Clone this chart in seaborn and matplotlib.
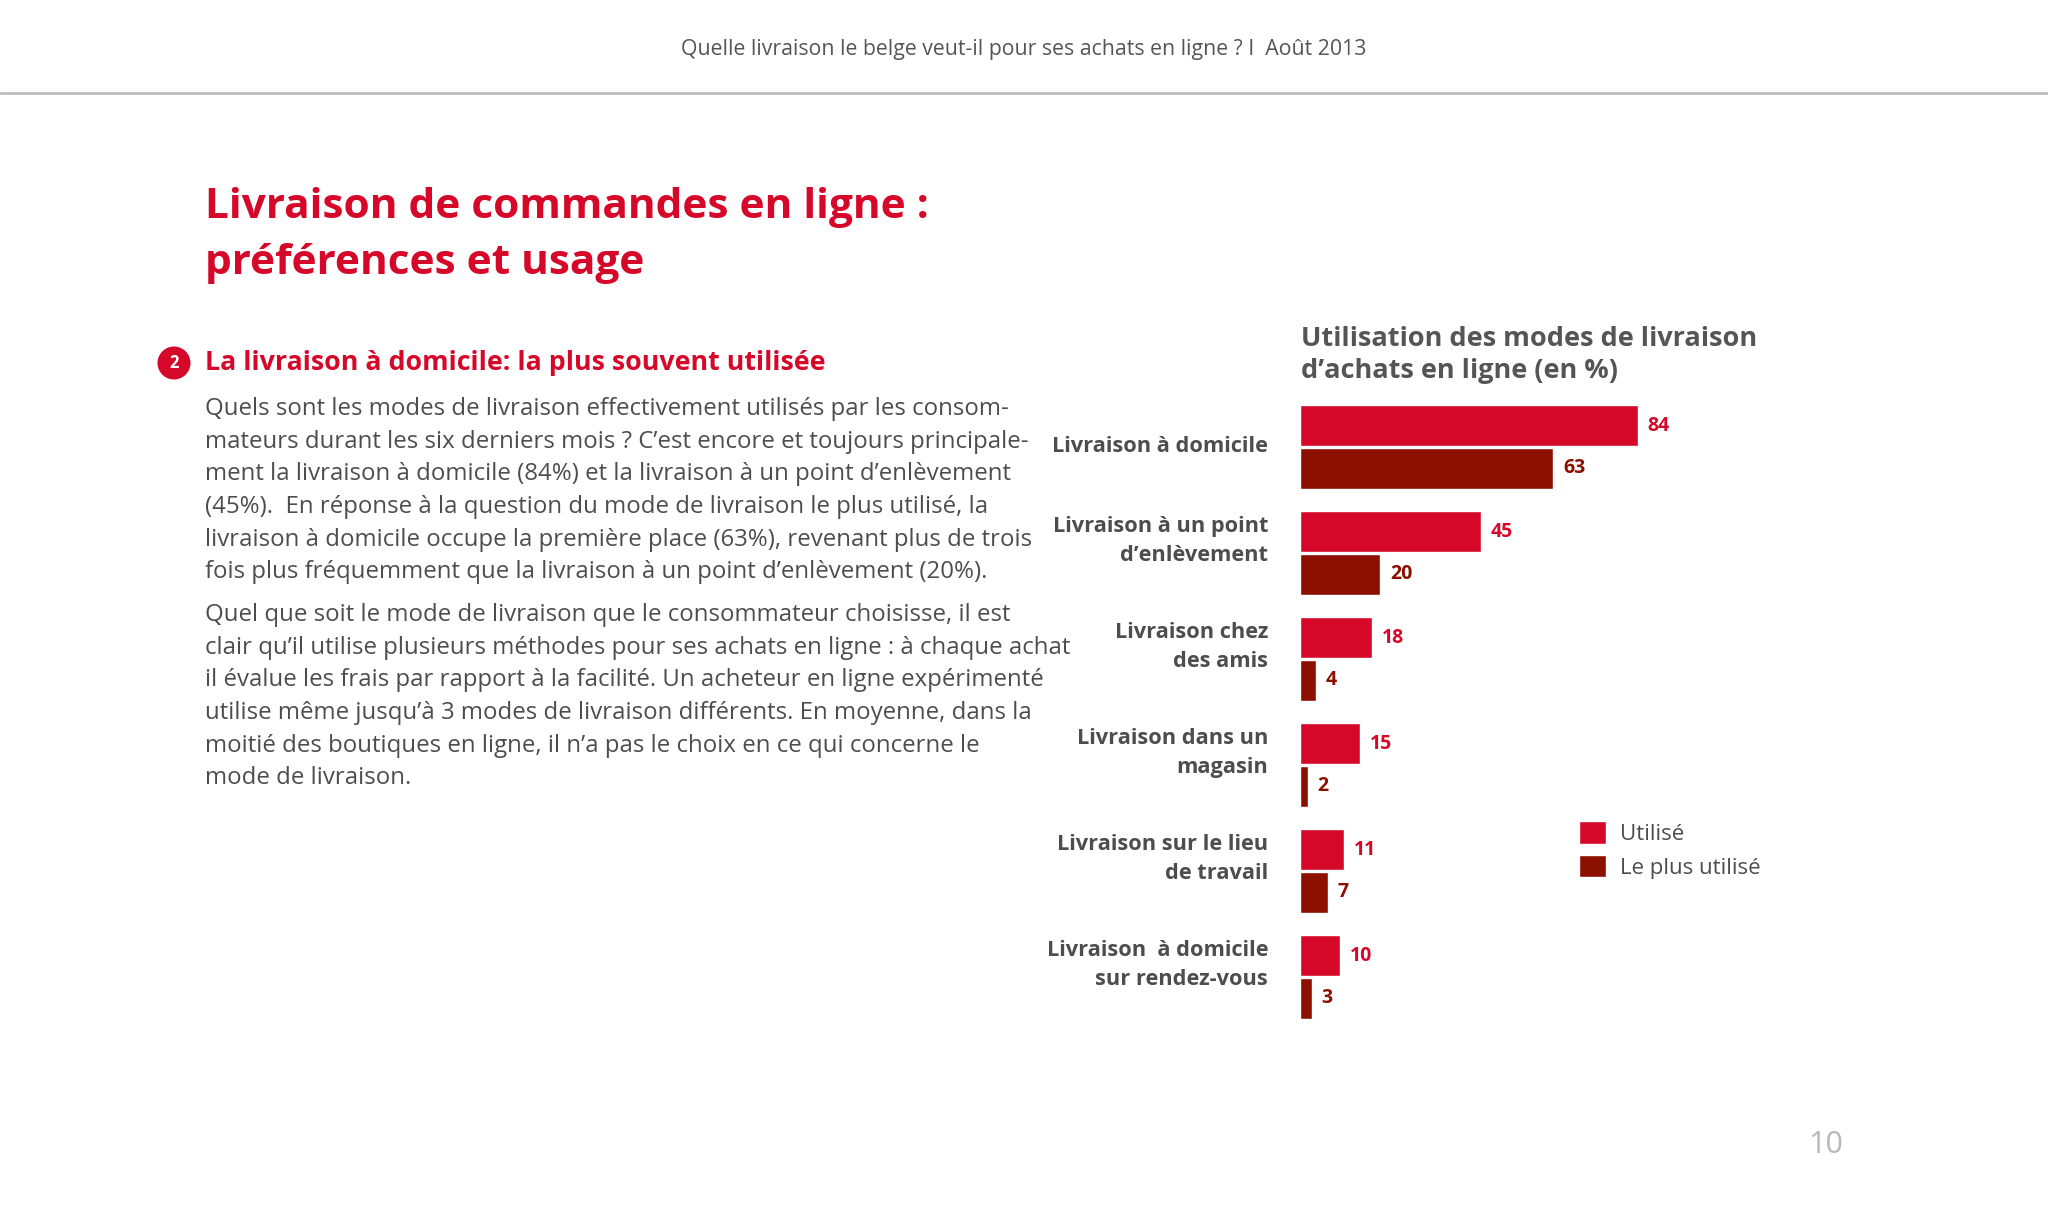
import matplotlib.pyplot as plt
import matplotlib.transforms as mtransforms
import pandas as pd
import seaborn as sns
from matplotlib.lines import Line2D

# données du graphique
categories = ['Livraison à domicile',
              'Livraison à un point\nd\u2019enlèvement',
              'Livraison chez\ndes amis',
              'Livraison dans un\nmagasin',
              'Livraison sur le lieu\nde travail',
              'Livraison  à domicile\nsur rendez-vous']
utilise = [84, 45, 18, 15, 11, 10]
plus_utilise = [63, 20, 4, 2, 7, 3]
series = ['Utilisé', 'Le plus utilisé']

RED = '#D6082A'
DARK = '#8B1000'
GREY = '#4d4d4d'
FONTS = ['Liberation Sans Narrow', 'Open Sans', 'DejaVu Sans']

df = pd.DataFrame({
    'Mode': categories * 2,
    'Série': [series[0]] * len(categories) + [series[1]] * len(categories),
    'Pourcentage': utilise + plus_utilise,
})

sns.set_style('white')
plt.rcParams['font.family'] = FONTS

fig = plt.figure(figsize=(20.48, 12.29), dpi=100)
fig.patch.set_facecolor('white')

ax = fig.add_axes([1300 / 2048, 1 - 1030 / 1229, 402 / 2048, 636 / 1229])
sns.barplot(data=df, y='Mode', x='Pourcentage', hue='Série', orient='h',
            palette=[RED, DARK], width=0.81, gap=0.06, saturation=1, ax=ax)
ax.set_xlim(0, 100)
ax.set_ylim(5.5, -0.5)
ax.set_xlabel('')
ax.set_ylabel('')
ax.set_xticks([])
ax.tick_params(axis='y', length=0, pad=23)
for lab in ax.get_yticklabels():
    lab.set_fontsize(15.7)
    lab.set_fontweight('bold')
    lab.set_color(GREY)
    lab.set_linespacing(1.5)
    up = 13 if '\n' in lab.get_text() else 2
    lab.set_transform(lab.get_transform() +
                      mtransforms.ScaledTranslation(0, up / 72, fig.dpi_scale_trans))
for s in ax.spines.values():
    s.set_visible(False)

for cont, col in zip(ax.containers, [RED, DARK]):
    ax.bar_label(cont, padding=7, color=col, fontweight='bold', fontsize=14)

sns.move_legend(ax, loc='center left', bbox_to_anchor=(0.645, 0.283),
                frameon=False, title=None, fontsize=16, handlelength=1.2,
                handleheight=1.15, handletextpad=0.65, labelspacing=0.45)
for t in ax.get_legend().get_texts():
    t.set_color(GREY)

# titre du graphique
fig.text(1301 / 2048, 1 - 339 / 1229, 'Utilisation des modes de livraison',
         fontsize=19.5, fontweight='bold', color='#555555', va='center')
fig.text(1301 / 2048, 1 - 371 / 1229, 'd\u2019achats en ligne (en %)',
         fontsize=19.5, fontweight='bold', color='#555555', va='center')

# en-tête
fig.text(0.5, 1 - 50 / 1229,
         'Quelle livraison le belge veut-il pour ses achats en ligne ? I  Août 2013',
         fontsize=15.3, color='#555555', ha='center', va='center')
fig.add_artist(Line2D([0, 1], [1 - 93 / 1229] * 2, color='#bdbdbd', lw=2,
                      transform=fig.transFigure))

# titre de la page
fig.text(205 / 2048, 1 - 208 / 1229, 'Livraison de commandes en ligne :',
         fontsize=30.5, fontweight='bold', color=RED, va='center')
fig.text(205 / 2048, 1 - 263 / 1229, 'préférences et usage',
         fontsize=30.5, fontweight='bold', color=RED, va='center')

# sous-titre
fig.text(174 / 2048, 1 - 363 / 1229, '2', fontsize=12, fontweight='bold',
         color='white', ha='center', va='center',
         bbox=dict(boxstyle='circle,pad=0.45', fc=RED, ec='none'))
fig.text(205 / 2048, 1 - 363 / 1229,
         'La livraison à domicile: la plus souvent utilisée',
         fontsize=19.3, fontweight='bold', color=RED, va='center')

para1 = [
    'Quels sont les modes de livraison effectivement utilisés par les consom-',
    'mateurs durant les six derniers mois ? C\u2019est encore et toujours principale-',
    'ment la livraison à domicile (84%) et la livraison à un point d\u2019enlèvement',
    '(45%).  En réponse à la question du mode de livraison le plus utilisé, la',
    'livraison à domicile occupe la première place (63%), revenant plus de trois',
    'fois plus fréquemment que la livraison à un point d\u2019enlèvement (20%).',
]
para2 = [
    'Quel que soit le mode de livraison que le consommateur choisisse, il est',
    'clair qu\u2019il utilise plusieurs méthodes pour ses achats en ligne : à chaque achat',
    'il évalue les frais par rapport à la facilité. Un acheteur en ligne expérimenté',
    'utilise même jusqu\u2019à 3 modes de livraison différents. En moyenne, dans la',
    'moitié des boutiques en ligne, il n\u2019a pas le choix en ce qui concerne le',
    'mode de livraison.',
]
for start, lines in [(409, para1), (615, para2)]:
    for i, line in enumerate(lines):
        fig.text(205 / 2048, 1 - (start + i * 32.65) / 1229, line,
                 fontsize=17.3, color=GREY, va='center')

# numéro de page
fig.text(1826 / 2048, 1 - 1145 / 1229, '10', fontsize=22, color='#b8b8b8',
         ha='center', va='center')

fig.savefig('out.png', dpi=100, facecolor='white')
